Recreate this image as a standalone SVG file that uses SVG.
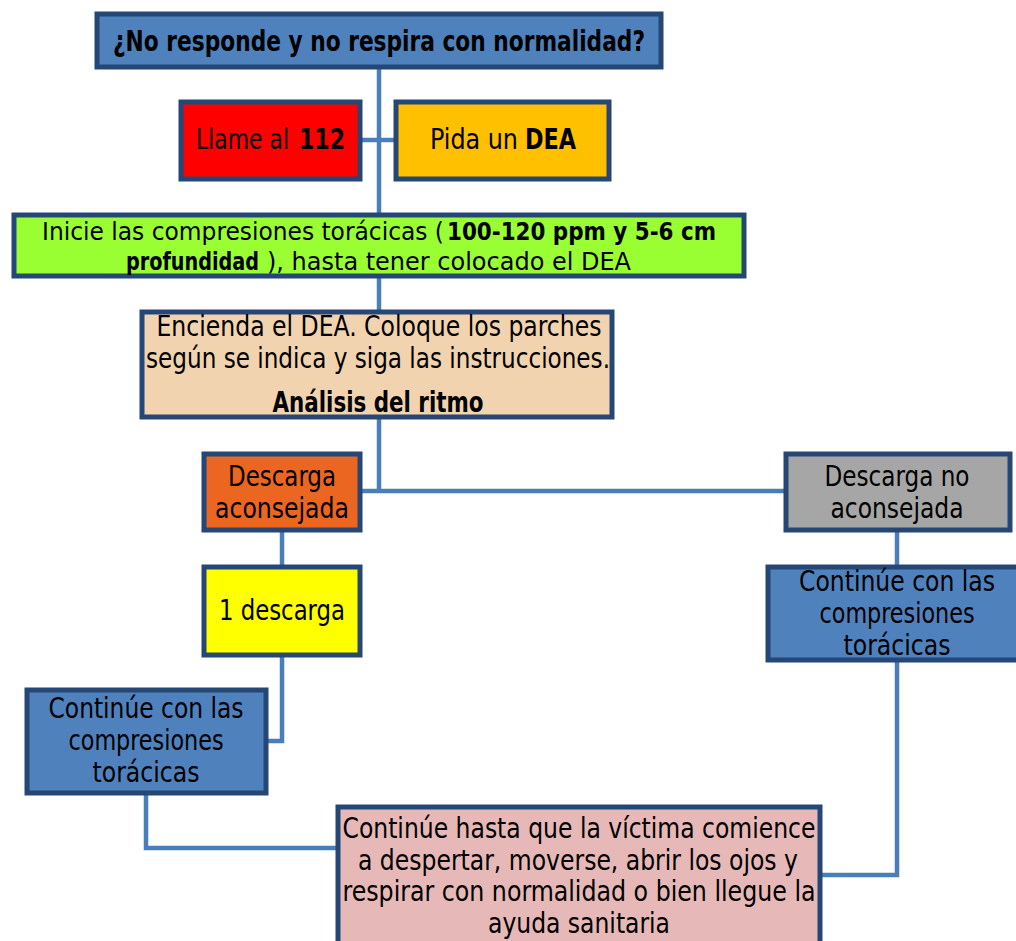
<svg xmlns="http://www.w3.org/2000/svg" width="1016" height="941" viewBox="0 0 1016 941">
<style>
.c{fill:none;stroke:#4A7EBB;stroke-width:4.5}
.b{stroke:#254775;stroke-width:5}
text{font-family:"Liberation Sans Narrow","DejaVu Sans Condensed","Liberation Sans",sans-serif;font-size:28px;fill:#000;text-anchor:middle}
.s{text-anchor:start}
.bd{font-weight:bold}
.g{font-size:25px}
</style>
<rect width="1016" height="941" fill="#fff"/>
<g id="connectors">
<path class="c" d="M379 69V491"/>
<path class="c" d="M362 140H394"/>
<path class="c" d="M362 491H784"/>
<path class="c" d="M282 532V565"/>
<path class="c" d="M282 657V741H268"/>
<path class="c" d="M897 532V565"/>
<path class="c" d="M146 795V848H336"/>
<path class="c" d="M897 662V875H822"/>
</g>
<g id="n1"><rect class="b" x="97" y="14" width="564" height="53" fill="#4F81BD"/>
<text x="379" y="51" class="bd" font-size="26" textLength="532" lengthAdjust="spacingAndGlyphs">¿No responde y no respira con normalidad?</text></g>
<g id="n2"><rect class="b" x="181" y="102" width="179" height="77" fill="#FF0000"/>
<text x="196" y="149" class="s" textLength="93" lengthAdjust="spacingAndGlyphs">Llame al</text>
<text x="299" y="149" class="s bd" textLength="46" lengthAdjust="spacingAndGlyphs">112</text></g>
<g id="n3"><rect class="b" x="396" y="102" width="213" height="77" fill="#FFC000"/>
<text x="430" y="149" class="s" textLength="88" lengthAdjust="spacingAndGlyphs">Pida un</text>
<text x="525" y="149" class="s bd" textLength="51" lengthAdjust="spacingAndGlyphs">DEA</text></g>
<g id="n4"><rect class="b" x="14" y="215" width="730" height="61" fill="#99FF33"/>
<text x="42" y="240" class="s g" textLength="402" lengthAdjust="spacingAndGlyphs">Inicie las compresiones torácicas (</text>
<text x="447" y="240" class="s bd g" textLength="269" lengthAdjust="spacingAndGlyphs">100-120 ppm y 5-6 cm</text>
<text x="126" y="270" class="s bd g" textLength="133" lengthAdjust="spacingAndGlyphs">profundidad</text>
<text x="267" y="270" class="s g" textLength="364" lengthAdjust="spacingAndGlyphs">), hasta tener colocado el DEA</text></g>
<g id="n5"><rect class="b" x="142" y="312" width="470" height="105" fill="#F1D4AF"/>
<text x="379" y="336" textLength="445" lengthAdjust="spacingAndGlyphs">Encienda el DEA. Coloque los parches</text>
<text x="378" y="368" textLength="464" lengthAdjust="spacingAndGlyphs">según se indica y siga las instrucciones.</text>
<text x="378" y="412" class="bd" font-size="25" textLength="211" lengthAdjust="spacingAndGlyphs">Análisis del ritmo</text></g>
<g id="n6"><rect class="b" x="204" y="454" width="156" height="76" fill="#EB6620"/>
<text x="282" y="486" textLength="108" lengthAdjust="spacingAndGlyphs">Descarga</text>
<text x="282" y="518" textLength="134" lengthAdjust="spacingAndGlyphs">aconsejada</text></g>
<g id="n7"><rect class="b" x="786" y="454" width="224" height="76" fill="#A6A6A6"/>
<text x="897" y="486" textLength="145" lengthAdjust="spacingAndGlyphs">Descarga no</text>
<text x="897" y="518" textLength="133" lengthAdjust="spacingAndGlyphs">aconsejada</text></g>
<g id="n8"><rect class="b" x="204" y="567" width="156" height="88" fill="#FFFF00"/>
<text x="282" y="620" textLength="126" lengthAdjust="spacingAndGlyphs">1 descarga</text></g>
<g id="n9"><rect class="b" x="27" y="690" width="239" height="103" fill="#4F81BD"/>
<text x="146" y="718" textLength="195" lengthAdjust="spacingAndGlyphs">Continúe con las</text>
<text x="146" y="750" textLength="155" lengthAdjust="spacingAndGlyphs">compresiones</text>
<text x="146" y="782" textLength="107" lengthAdjust="spacingAndGlyphs">torácicas</text></g>
<g id="n10"><rect class="b" x="768" y="567" width="252" height="93" fill="#4F81BD"/>
<text x="897" y="591" textLength="196" lengthAdjust="spacingAndGlyphs">Continúe con las</text>
<text x="897" y="623" textLength="155" lengthAdjust="spacingAndGlyphs">compresiones</text>
<text x="897" y="655" textLength="107" lengthAdjust="spacingAndGlyphs">torácicas</text></g>
<g id="n11"><rect class="b" x="338" y="807" width="482" height="140" fill="#E6B9B8"/>
<text x="579" y="838" textLength="473" lengthAdjust="spacingAndGlyphs">Continúe hasta que la víctima comience</text>
<text x="578" y="870" textLength="440" lengthAdjust="spacingAndGlyphs">a despertar, moverse, abrir los ojos y</text>
<text x="579" y="901" textLength="473" lengthAdjust="spacingAndGlyphs">respirar con normalidad o bien llegue la</text>
<text x="579" y="933" textLength="182" lengthAdjust="spacingAndGlyphs">ayuda sanitaria</text></g>
</svg>
